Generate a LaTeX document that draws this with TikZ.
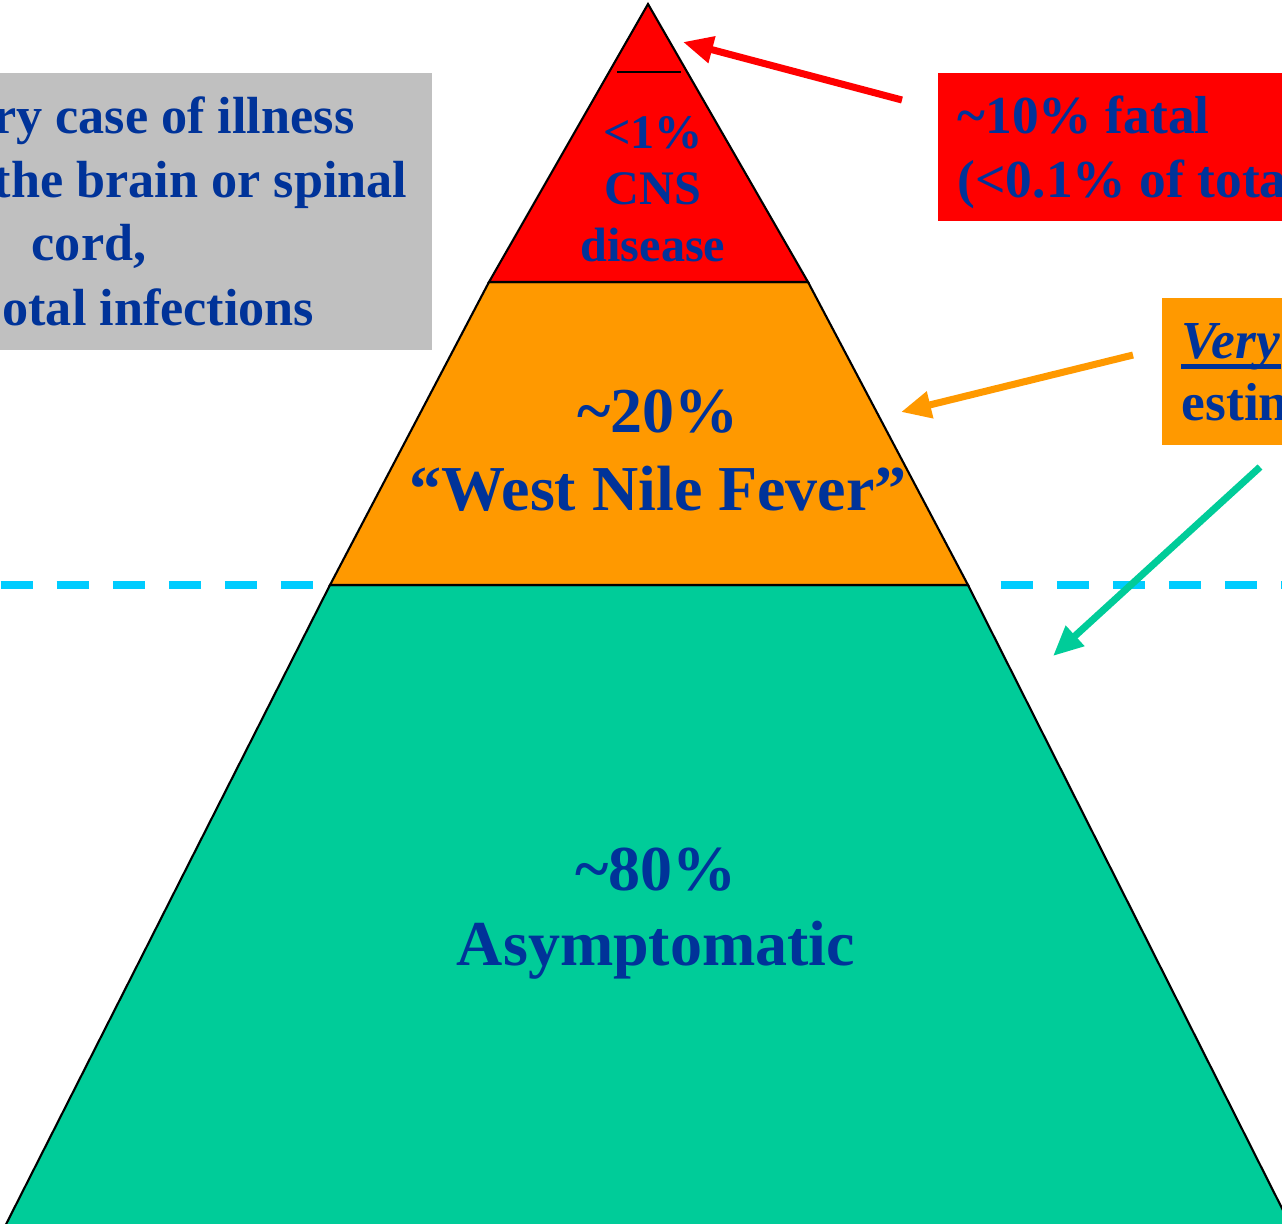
\documentclass[tikz,border=0pt]{standalone}
\usepackage{fontspec}
\setmainfont{Liberation Serif}
\usepackage{tikz}
\usetikzlibrary{arrows.meta}

\definecolor{wnblue}{RGB}{0,51,153}
\definecolor{wnred}{RGB}{255,0,0}
\definecolor{wnorange}{RGB}{255,153,0}
\definecolor{wngreen}{RGB}{0,204,153}
\definecolor{wncyan}{RGB}{0,204,255}
\definecolor{wngrey}{RGB}{192,192,192}

\tikzset{
	tier/.style={fill=#1, draw=black, line width=0.6pt},
	pointer/.style={draw=#1, line width=2pt, -{Triangle[length=0.3cm, width=0.26cm]}},
	waterline/.style={draw=wncyan, line width=0.08cm, dash pattern=on 0.32cm off 0.24cm},
	bigtxt/.style={font=\fontsize{18.2}{22}\selectfont\bfseries, inner sep=0},
	smalltxt/.style={font=\fontsize{13.7}{16}\selectfont\bfseries, inner sep=0},
	boxtxt/.style={font=\fontsize{15.2}{18}\selectfont\bfseries, inner sep=0},
	greytxt/.style={font=\fontsize{14.85}{18}\selectfont\bfseries, inner sep=0}
}

\begin{document}
\begin{tikzpicture}[x=0.01cm, y=-0.01cm, text=wnblue]
			
			\clip (0,0) rectangle (1282,1223);
			
			% dashed line behind the pyramid
			\draw[waterline] (0.7,585) -- (312.7,585);
			\draw[waterline] (1000.7,585) -- (1320,585);
			
			% pyramid corners
			\coordinate (apex) at (648,4);
			\coordinate (rl) at (489,282);
			\coordinate (rr) at (808,282);
			\coordinate (ol) at (330,585);
			\coordinate (or) at (968,585);
			\coordinate (gl) at (-6,1248);
			\coordinate (gr) at (1302,1248);
			
			\draw[tier=wngreen] (ol) -- (or) -- (gr) -- (gl) -- cycle;
			\draw[tier=wnorange] (rl) -- (rr) -- (or) -- (ol) -- cycle;
			\draw[tier=wnred] (apex) -- (rr) -- (rl) -- cycle;
			\draw[line width=0.6pt] (617,72) -- (681,72);
			
			\foreach \t [count=\i] in {{<1\%}, CNS, disease}
			{
				\node[smalltxt, anchor=base] (cns\i) at (653,{148+56.5*(\i-1)}) {\t};
			}
			\node[bigtxt, anchor=base] (fever1) at (658,432) {\textasciitilde20\%};
			\node[bigtxt, anchor=base] (fever2) at (658,510) {“West Nile Fever”};
			\node[bigtxt, anchor=base] (asym1) at (656,890) {\textasciitilde80\%};
			\node[bigtxt, anchor=base] (asym2) at (656,965) {Asymptomatic};
			
			% side boxes
			\node[fill=wngrey, inner sep=0, minimum width=6cm, minimum height=2.77cm, anchor=north east] (greybox) at (433,72) {};
			\node[fill=wnred, inner sep=0, minimum width=4cm, minimum height=1.48cm, anchor=north west] (redbox) at (937,72) {};
			\node[fill=wnorange, inner sep=0, minimum width=2cm, minimum height=1.47cm, anchor=north west] (orangebox) at (1161,297) {};
			
			\foreach \t/\x/\y [count=\i] in {{ry case of illness}/355/133, {the brain or spinal}/408/197, {cord,}/147/260, {otal infections}/315/325}
			{
				\node[greytxt, anchor=base east] (cases\i) at (\x,\y) {\t};
			}
			\node[boxtxt, anchor=base west] (fatal1) at (957,133) {\textasciitilde10\% fatal};
			\node[boxtxt, anchor=base west] (fatal2) at (957,197) {(<0.1\% of tota};
			\node[boxtxt, anchor=base west] (very) at (1181,358) {\textit{Very}};
			\node[boxtxt, anchor=base west] (estim) at (1181,420) {estin};
			\draw[wnblue, line width=0.05cm] ([yshift=-0.08cm]very.base west) -- ([yshift=-0.08cm]very.base east);
			
			% arrows
			\coordinate (redtail) at (902,100);
			\coordinate (redtip) at (683,42);
			\coordinate (orangetail) at (1133,355);
			\coordinate (orangetip) at (901,412);
			\coordinate (greentail) at (1260,467);
			\coordinate (greentip) at (1053,656);
			\draw[pointer=wnred] (redtail) -- (redtip);
			\draw[pointer=wnorange] (orangetail) -- (orangetip);
			\draw[pointer=wngreen] (greentail) -- (greentip);
			
\end{tikzpicture}
\end{document}
